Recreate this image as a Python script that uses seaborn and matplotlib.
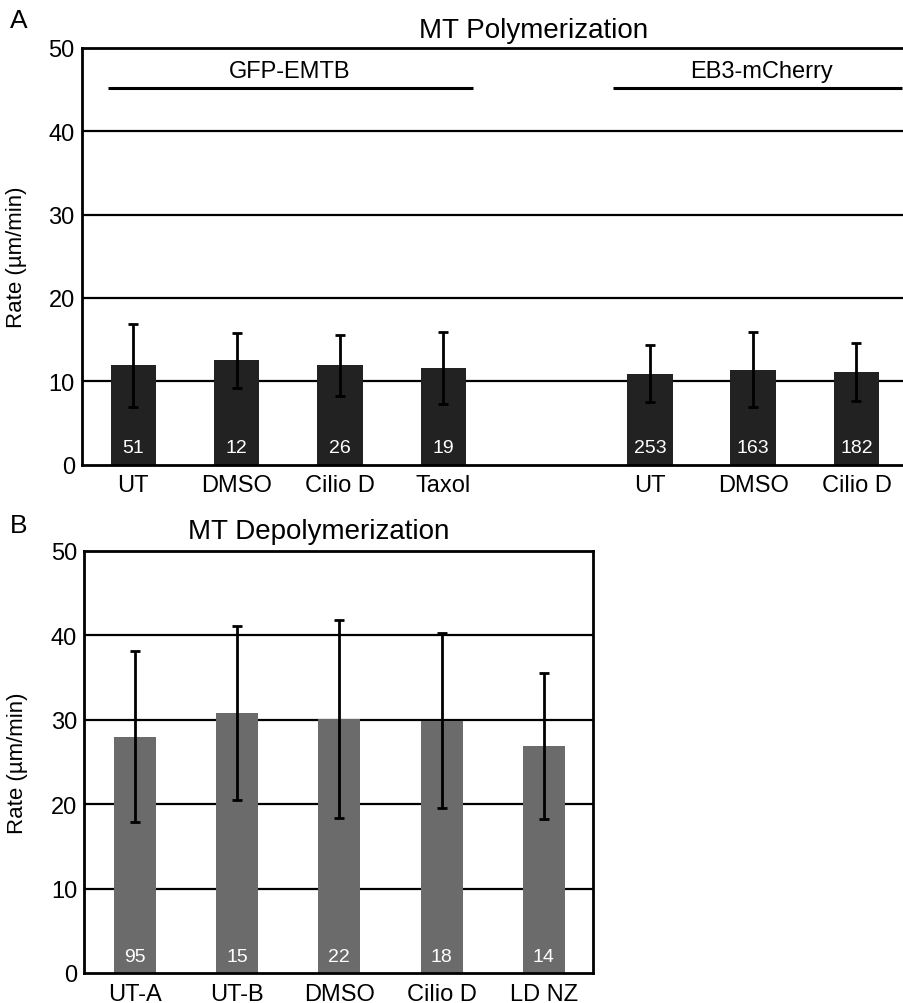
import numpy as np
import pandas as pd
import matplotlib
matplotlib.use("Agg")
import matplotlib.pyplot as plt
import seaborn as sns

# ===========================
# Data
# ===========================

# Panel A - polymerization
poly_labels = ["UT", "DMSO", "Cilio D", "Taxol", "UT", "DMSO", "Cilio D"]
poly_pos = [0, 1, 2, 3, 5, 6, 7]
poly_rate = [11.9, 12.5, 11.9, 11.6, 10.9, 11.4, 11.1]
poly_err = [5.0, 3.25, 3.7, 4.3, 3.4, 4.5, 3.5]
poly_n = [51, 12, 26, 19, 253, 163, 182]

groups = ["GFP-EMTB", "EB3-mCherry"]
group_start = [-0.245, 4.64]
group_end = [3.29, 7.44]
group_label_x = [1.51, 6.08]

# Panel B - depolymerization
depoly_labels = ["UT-A", "UT-B", "DMSO", "Cilio D", "LD NZ"]
depoly_rate = [28.0, 30.8, 30.1, 29.9, 26.9]
depoly_err = [10.1, 10.3, 11.7, 10.4, 8.65]
depoly_n = [95, 15, 22, 18, 14]

df_a = pd.DataFrame({"pos": poly_pos, "rate": poly_rate})
df_b = pd.DataFrame({"cond": depoly_labels, "rate": depoly_rate})

# ===========================
# Style
# ===========================

sns.set_theme(style="white")
plt.rcParams["font.family"] = ["Liberation Sans", "DejaVu Sans"]
plt.rcParams["text.color"] = "black"
plt.rcParams["axes.linewidth"] = 2.0

fig = plt.figure(figsize=(9.04, 10.04), dpi=100)
ax_a = fig.add_axes([0.0904, 0.5362, 1.0 - 0.0904, 0.415])
ax_b = fig.add_axes([0.0929, 0.0299, 0.656 - 0.0929, 0.4203])


def style_axis(ax):
    ax.set_ylim(0, 50)
    ax.set_yticks([0, 10, 20, 30, 40, 50])
    for v in [10, 20, 30, 40]:
        ax.axhline(v, color="black", lw=1.6, zorder=0)
    ax.tick_params(axis="both", length=0, labelsize=17, colors="black")
    ax.tick_params(axis="y", pad=5)
    ax.tick_params(axis="x", pad=7)
    for s in ax.spines.values():
        s.set_color("black")
        s.set_linewidth(2.0)
    ax.set_xlabel("")
    ax.set_ylabel("Rate (\u00b5m/min)", fontsize=16, color="black")


# ===========================
# Panel A
# ===========================

sns.barplot(data=df_a, x="pos", y="rate", native_scale=True, width=0.44,
            color="#222222", saturation=1, errorbar=None, linewidth=0,
            ax=ax_a, zorder=2)
ax_a.errorbar(poly_pos, poly_rate, yerr=poly_err, fmt="none", ecolor="black",
              elinewidth=2, capsize=3.5, capthick=2, zorder=3)
for x, n in zip(poly_pos, poly_n):
    ax_a.text(x, 2.1, str(n), color="white", ha="center", va="center", fontsize=14, zorder=4)

for g, x0, x1, xl in zip(groups, group_start, group_end, group_label_x):
    ax_a.plot([x0, x1], [45.2, 45.2], color="black", lw=2.2, solid_capstyle="butt")
    ax_a.text(xl, 47.2, g, ha="center", va="center", fontsize=17, color="black")

ax_a.set_xlim(-0.5, 7.46)
ax_a.set_xticks(poly_pos)
ax_a.set_xticklabels(poly_labels)
style_axis(ax_a)
ax_a.spines["right"].set_visible(False)
ax_a.yaxis.set_label_coords(-0.066, 0.5)

# ===========================
# Panel B
# ===========================

sns.barplot(data=df_b, x="cond", y="rate", width=0.41, color="#6b6b6b",
            saturation=1, errorbar=None, linewidth=0, ax=ax_b, zorder=2)
xb = np.arange(len(depoly_labels))
ax_b.errorbar(xb, depoly_rate, yerr=depoly_err, fmt="none", ecolor="black",
              elinewidth=2, capsize=3.5, capthick=2, zorder=3)
for x, n in zip(xb, depoly_n):
    ax_b.text(x, 1.9, str(n), color="white", ha="center", va="center", fontsize=14, zorder=4)

ax_b.set_xlim(-0.495, 4.48)
style_axis(ax_b)
ax_b.yaxis.set_label_coords(-0.11, 0.5)

# titles and panel letters
fig.text(533.5 / 904, 1 - 38 / 1004, "MT Polymerization", ha="center", va="baseline",
         fontsize=20, color="black")
fig.text(319 / 904, 1 - 539 / 1004, "MT Depolymerization", ha="center", va="baseline",
         fontsize=20, color="black")
fig.text(0.011, 1 - 28 / 1004, "A", ha="left", va="baseline", fontsize=19, color="black")
fig.text(0.011, 1 - 533 / 1004, "B", ha="left", va="baseline", fontsize=19, color="black")

fig.savefig("out.png", dpi=100, facecolor="white")
